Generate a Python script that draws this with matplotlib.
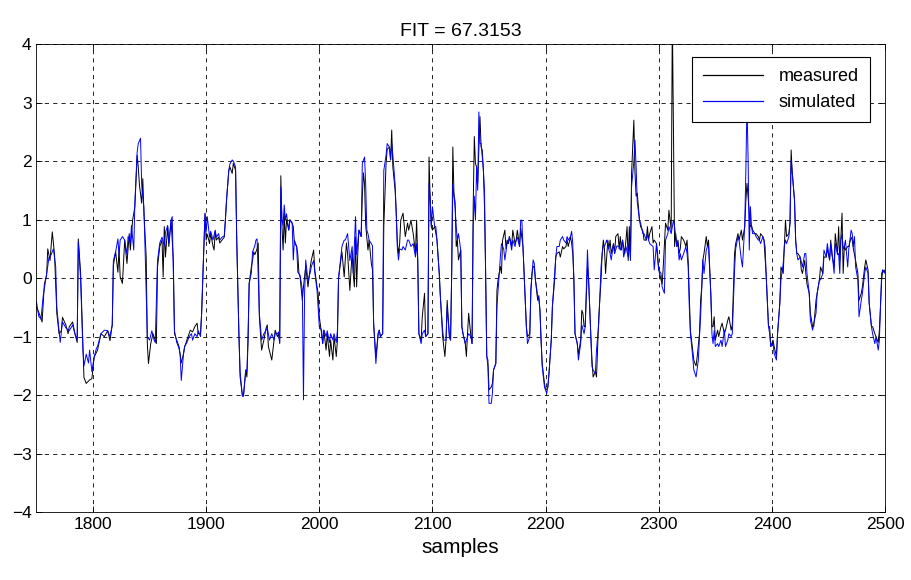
import matplotlib.pyplot as plt
import numpy as np

plt.rcParams['font.family'] = ['Liberation Sans', 'DejaVu Sans']
plt.rcParams['lines.scale_dashes'] = False

# measured output (sample index, value)
MEAS_X = [1750, 1752, 1755, 1757, 1759, 1760, 1762, 1764, 1766, 1768, 1770, 1772, 1773, 1776, 1778, 1779,
          1782, 1784, 1786, 1787, 1789, 1792, 1794, 1797, 1799, 1801, 1804, 1807, 1810, 1813, 1815, 1817,
          1818, 1820, 1822, 1823, 1824, 1826, 1828, 1830, 1832, 1833, 1835, 1837, 1839, 1840, 1841, 1843,
          1844, 1845, 1847, 1848, 1849, 1851, 1853, 1855, 1856, 1857, 1859, 1861, 1862, 1863, 1864, 1866,
          1867, 1869, 1871, 1872, 1874, 1876, 1878, 1880, 1881, 1883, 1885, 1886, 1888, 1890, 1892, 1893,
          1895, 1896, 1897, 1899, 1900, 1901, 1903, 1904, 1906, 1907, 1908, 1909, 1911, 1912, 1914, 1916,
          1917, 1918, 1920, 1921, 1923, 1924, 1926, 1927, 1929, 1930, 1932, 1933, 1935, 1936, 1937, 1938,
          1940, 1941, 1942, 1943, 1945, 1946, 1947, 1949, 1951, 1953, 1954, 1955, 1958, 1960, 1961, 1963,
          1964, 1965, 1966, 1967, 1968, 1969, 1970, 1971, 1973, 1974, 1976, 1977, 1978, 1980, 1981, 1982,
          1983, 1985, 1986, 1988, 1990, 1992, 1993, 1995, 1996, 1998, 1999, 2000, 2002, 2003, 2004, 2006,
          2007, 2009, 2010, 2012, 2013, 2015, 2016, 2017, 2019, 2020, 2022, 2023, 2024, 2025, 2027, 2029,
          2030, 2031, 2032, 2033, 2034, 2035, 2037, 2038, 2039, 2040, 2041, 2043, 2044, 2046, 2047, 2048,
          2050, 2052, 2053, 2054, 2056, 2057, 2059, 2060, 2062, 2063, 2064, 2065, 2067, 2068, 2069, 2070,
          2071, 2072, 2074, 2076, 2078, 2079, 2081, 2083, 2085, 2086, 2087, 2088, 2090, 2091, 2093, 2094,
          2096, 2097, 2098, 2099, 2100, 2102, 2103, 2104, 2106, 2107, 2109, 2110, 2111, 2112, 2113, 2115,
          2116, 2117, 2118, 2119, 2120, 2121, 2122, 2123, 2125, 2126, 2127, 2129, 2130, 2131, 2132, 2134,
          2135, 2136, 2137, 2138, 2139, 2140, 2141, 2142, 2143, 2144, 2145, 2146, 2147, 2148, 2149, 2150,
          2152, 2153, 2154, 2156, 2157, 2158, 2159, 2160, 2161, 2162, 2164, 2165, 2166, 2167, 2168, 2170,
          2171, 2173, 2174, 2175, 2177, 2178, 2180, 2181, 2183, 2184, 2186, 2187, 2188, 2189, 2190, 2191,
          2193, 2194, 2195, 2196, 2197, 2199, 2200, 2201, 2202, 2203, 2205, 2206, 2208, 2209, 2210, 2212,
          2213, 2215, 2216, 2218, 2219, 2220, 2222, 2223, 2224, 2225, 2226, 2228, 2229, 2231, 2232, 2233,
          2234, 2235, 2237, 2238, 2240, 2241, 2242, 2244, 2245, 2246, 2247, 2249, 2250, 2251, 2252, 2253,
          2255, 2256, 2257, 2258, 2260, 2261, 2262, 2264, 2265, 2266, 2267, 2268, 2270, 2272, 2273, 2274,
          2275, 2276, 2278, 2279, 2280, 2281, 2282, 2283, 2284, 2286, 2287, 2289, 2290, 2291, 2292, 2294,
          2295, 2296, 2298, 2299, 2300, 2302, 2303, 2304, 2306, 2308, 2309, 2311, 2312, 2314, 2315, 2316,
          2317, 2318, 2319, 2320, 2322, 2323, 2324, 2325, 2326, 2327, 2328, 2330, 2331, 2332, 2333, 2334,
          2336, 2337, 2338, 2339, 2340, 2342, 2343, 2344, 2346, 2347, 2348, 2349, 2350, 2352, 2353, 2355,
          2356, 2358, 2359, 2361, 2362, 2364, 2365, 2367, 2368, 2370, 2371, 2373, 2374, 2376, 2377, 2378,
          2380, 2381, 2382, 2383, 2385, 2386, 2388, 2389, 2390, 2392, 2393, 2395, 2397, 2398, 2399, 2401,
          2402, 2404, 2405, 2407, 2408, 2410, 2411, 2412, 2413, 2415, 2416, 2417, 2418, 2420, 2421, 2422,
          2423, 2425, 2426, 2427, 2429, 2430, 2431, 2433, 2434, 2436, 2437, 2439, 2440, 2442, 2443, 2445,
          2446, 2448, 2449, 2451, 2452, 2453, 2455, 2456, 2458, 2459, 2460, 2461, 2462, 2463, 2464, 2465,
          2467, 2468, 2470, 2471, 2472, 2474, 2476, 2477, 2479, 2480, 2482, 2483, 2485, 2486, 2488, 2489,
          2491, 2492, 2494, 2495, 2497, 2498, 2499, 2500]
MEAS_Y = [-0.5, -0.58, -0.75, -0.1, 0.05, 0.5, 0.3, 0.79, 0.4, -0.6, -0.95, -0.9, -0.67, -0.8, -0.95, -0.83,
          -0.75, -0.95, -1.1, 0.67, 0.1, -1.7, -1.8, -1.74, -1.72, -1.35, -1.23, -0.95, -1.0, -0.9, -1.07, -0.8,
          0.22, 0.45, 0.1, 0.5, 0.02, -0.09, 0.65, 0.25, 0.76, 0.48, 0.99, 1.22, 2.1, 1.9, 1.6, 1.28,
          1.7, 1.11, 0.36, -1.12, -1.46, -1.12, -0.95, -1.06, -1.12, 0.19, 0.54, 0.65, 0.02, 0.88, 0.36, 0.88,
          0.54, 0.99, 0.3, -0.95, -1.06, -1.17, -1.45, -1.29, -1.17, -1.06, -0.95, -0.89, -0.92, -0.83, -0.77, -0.95,
          -0.95, -0.6, -0.03, 1.11, 0.65, 0.75, 0.59, 0.76, 0.55, 0.48, 0.8, 0.65, 0.7, 0.6, 0.65, 0.7,
          0.99, 1.33, 1.84, 1.9, 1.79, 1.96, 1.84, 0.65, -1.0, -1.69, -2.0, -2.0, -1.57, -1.69, -1.1, -0.09,
          0.2, 0.3, 0.45, 0.4, 0.5, 0.6, -0.66, -1.23, -1.06, -0.85, -0.8, -1.17, -1.4, -1.06, -0.89, -1.0,
          -0.95, -1.1, 1.75, 0.88, 0.48, 1.1, 0.6, 1.0, 0.82, 1.0, 0.94, 0.88, 0.6, 0.54, 0.4, 0.08,
          0.02, -0.38, -0.15, 0.2, -0.15, 0.19, 0.31, 0.48, 0.14, -0.15, -0.26, -0.66, -0.95, -1.12, -0.89, -1.23,
          -0.95, -1.34, -1.06, -1.4, -1.0, -1.34, -1.06, 0.0, 0.3, 0.45, 0.02, 0.33, 0.6, 0.42, -0.21, 0.45,
          0.08, -0.15, 0.7, -0.15, 0.42, 0.82, 0.71, 1.39, 1.8, 1.6, 0.9, 0.48, 0.65, 0.25, 0.14, -0.77,
          -1.34, -0.95, -0.89, -1.0, -0.95, 0.88, 1.96, 2.2, 2.24, 2.02, 2.53, 1.9, 1.5, 1.11, 0.59, 0.42,
          0.59, 0.99, 1.11, 0.71, 0.94, 0.82, 0.99, 0.76, 0.42, 0.99, 0.31, -0.95, -1.06, -0.66, -0.26, -1.0,
          -0.95, 2.07, 1.3, 0.88, 0.82, 0.88, 0.76, 0.65, 0.08, -0.32, -1.0, -1.17, -1.34, -1.06, -0.38, -1.0,
          -1.06, 0.08, 2.24, 1.45, 1.3, 0.54, 0.65, 0.31, 0.48, -0.83, -0.95, -1.12, -1.34, -0.95, -0.6, -1.0,
          -1.12, 1.22, 2.42, 1.96, 1.9, 1.62, 2.2, 2.76, 2.24, 2.19, 1.85, 1.22, 0.08, -1.34, -1.4, -1.91,
          -1.86, -1.8, -1.57, -1.46, -0.21, -0.03, 0.08, 0.2, 0.08, 0.65, 0.82, 0.5, 0.65, 0.59, 0.71, 0.55,
          0.82, 0.59, 0.65, 0.82, 0.54, 0.85, 0.54, 0.08, -0.83, -1.0, -0.95, -0.21, 0.08, 0.2, 0.19, -0.03,
          -0.38, -0.3, -0.55, -1.06, -1.46, -1.8, -1.91, -1.9, -1.86, -1.63, -1.06, -0.49, -0.03, 0.36, 0.42, 0.45,
          0.36, 0.54, 0.5, 0.54, 0.65, 0.54, 0.7, 0.6, 0.42, -0.03, -0.95, -1.12, -1.3, -1.06, -0.55, -0.6,
          -0.83, -0.83, 0.2, -0.03, -1.0, -1.4, -1.69, -1.6, -1.69, -1.17, -0.66, -0.03, 0.42, 0.65, 0.5, 0.08,
          0.65, 0.5, 0.65, 0.42, 0.59, 0.42, 0.71, 0.76, 0.5, 0.71, 0.48, 0.65, 0.42, 0.88, 0.3, 0.88,
          0.36, 1.8, 2.7, 1.8, 1.4, 1.45, 1.22, 0.99, 0.88, 0.8, 0.65, 0.65, 0.88, 0.65, 0.76, 0.88,
          0.6, 0.65, 0.59, 0.42, 0.14, -0.03, -0.1, 0.2, 0.94, 0.82, 1.16, 0.82, 4.5, 0.54, 0.76, 0.54,
          0.65, 0.42, 0.5, 0.71, 0.65, 0.6, 0.54, 0.65, 0.3, -0.3, -0.9, -1.23, -1.4, -1.46, -1.5, -1.34,
          -0.95, -0.38, -0.15, 0.31, 0.42, 0.71, 0.54, 0.65, -0.26, -0.83, -0.83, -0.66, -1.06, -0.89, -1.0, -0.83,
          -0.77, -0.95, -0.89, -0.72, -0.66, -0.89, -0.8, 0.42, 0.59, 0.76, 0.65, 0.82, 0.65, 0.88, 1.33, 1.62,
          1.11, 0.88, 0.9, 0.82, 0.76, 0.76, 0.71, 0.65, 0.76, 0.71, 0.65, 0.03, -0.83, -0.83, -1.17, -1.06,
          -1.17, -1.34, -0.95, -0.43, 0.19, 0.08, 0.54, 0.99, 0.71, 0.76, 0.94, 2.19, 1.8, 1.33, 0.65, 0.42,
          0.42, 0.36, 0.14, 0.08, 0.3, 0.08, -0.1, -0.26, -0.6, -0.83, -0.83, -0.38, -0.26, -0.03, 0.19, 0.08,
          0.36, 0.36, 0.5, 0.31, 0.65, 0.4, 0.2, 0.76, 0.42, 0.88, 0.3, 0.71, 1.11, 0.08, 0.54, 0.48,
          0.54, 0.54, 0.7, 0.65, 0.5, 0.3, 0.08, -0.38, -0.26, -0.15, 0.19, 0.31, 0.14, -0.43, -0.83, -0.83,
          -0.95, -1.0, -1.1, -0.89, -0.03, 0.14, 0.1, 0.14]

# simulated model output
SIM_X = [1750, 1752, 1754, 1756, 1758, 1760, 1761, 1763, 1765, 1767, 1768, 1770, 1771, 1773, 1776, 1779,
         1782, 1784, 1786, 1787, 1789, 1791, 1792, 1794, 1796, 1797, 1799, 1801, 1803, 1804, 1807, 1810,
         1813, 1815, 1817, 1818, 1820, 1822, 1823, 1824, 1826, 1828, 1830, 1831, 1833, 1834, 1836, 1837,
         1839, 1840, 1842, 1843, 1845, 1846, 1848, 1850, 1852, 1854, 1855, 1857, 1859, 1861, 1863, 1864,
         1866, 1867, 1869, 1870, 1872, 1874, 1876, 1877, 1878, 1880, 1881, 1883, 1885, 1887, 1888, 1890,
         1892, 1893, 1895, 1896, 1897, 1899, 1900, 1901, 1903, 1904, 1906, 1908, 1909, 1911, 1912, 1914,
         1916, 1917, 1918, 1920, 1921, 1923, 1924, 1926, 1927, 1929, 1930, 1932, 1933, 1935, 1936, 1937,
         1938, 1940, 1941, 1943, 1944, 1945, 1947, 1949, 1951, 1953, 1954, 1956, 1958, 1960, 1961, 1963,
         1964, 1965, 1966, 1967, 1968, 1969, 1970, 1971, 1973, 1974, 1976, 1977, 1978, 1980, 1981, 1983,
         1985, 1986, 1987, 1988, 1990, 1992, 1993, 1995, 1996, 1998, 2000, 2002, 2003, 2004, 2006, 2007,
         2009, 2010, 2012, 2013, 2015, 2016, 2017, 2019, 2020, 2022, 2023, 2025, 2027, 2029, 2030, 2032,
         2033, 2034, 2035, 2037, 2038, 2040, 2041, 2042, 2043, 2044, 2046, 2047, 2048, 2050, 2052, 2053,
         2054, 2056, 2057, 2059, 2060, 2062, 2063, 2064, 2065, 2067, 2068, 2069, 2070, 2071, 2073, 2074,
         2076, 2078, 2079, 2081, 2083, 2085, 2086, 2087, 2088, 2090, 2091, 2093, 2094, 2096, 2097, 2098,
         2099, 2100, 2102, 2103, 2104, 2106, 2107, 2109, 2110, 2112, 2113, 2115, 2116, 2117, 2118, 2119,
         2120, 2121, 2122, 2123, 2125, 2126, 2127, 2129, 2130, 2132, 2134, 2135, 2136, 2137, 2138, 2139,
         2140, 2141, 2142, 2143, 2145, 2146, 2147, 2148, 2149, 2150, 2152, 2153, 2154, 2156, 2157, 2158,
         2159, 2160, 2161, 2163, 2164, 2166, 2167, 2168, 2170, 2171, 2173, 2174, 2175, 2177, 2178, 2179,
         2180, 2181, 2183, 2184, 2186, 2187, 2188, 2189, 2190, 2191, 2193, 2194, 2195, 2196, 2197, 2199,
         2201, 2202, 2203, 2205, 2206, 2208, 2209, 2210, 2212, 2213, 2215, 2216, 2218, 2219, 2220, 2222,
         2223, 2224, 2225, 2226, 2228, 2229, 2231, 2232, 2234, 2235, 2237, 2238, 2240, 2241, 2242, 2244,
         2245, 2247, 2249, 2250, 2251, 2252, 2254, 2256, 2257, 2258, 2260, 2261, 2263, 2265, 2266, 2268,
         2269, 2271, 2273, 2274, 2275, 2276, 2278, 2279, 2280, 2281, 2283, 2284, 2286, 2287, 2289, 2290,
         2291, 2292, 2295, 2296, 2298, 2299, 2300, 2302, 2303, 2305, 2306, 2308, 2309, 2311, 2313, 2314,
         2316, 2317, 2318, 2319, 2320, 2322, 2324, 2325, 2326, 2327, 2328, 2330, 2331, 2332, 2333, 2335,
         2336, 2337, 2338, 2339, 2340, 2342, 2343, 2344, 2346, 2347, 2348, 2349, 2350, 2352, 2353, 2355,
         2356, 2358, 2359, 2361, 2362, 2364, 2365, 2367, 2368, 2370, 2371, 2373, 2374, 2376, 2377, 2378,
         2379, 2380, 2381, 2382, 2383, 2385, 2386, 2388, 2389, 2390, 2392, 2393, 2394, 2395, 2397, 2398,
         2399, 2401, 2402, 2404, 2405, 2407, 2408, 2410, 2411, 2412, 2413, 2415, 2416, 2417, 2418, 2420,
         2421, 2422, 2423, 2425, 2427, 2429, 2430, 2431, 2433, 2434, 2436, 2437, 2439, 2440, 2442, 2443,
         2445, 2446, 2448, 2449, 2451, 2452, 2453, 2455, 2456, 2458, 2459, 2460, 2461, 2462, 2463, 2464,
         2465, 2467, 2468, 2470, 2471, 2472, 2473, 2474, 2476, 2477, 2479, 2480, 2482, 2483, 2485, 2486,
         2488, 2489, 2491, 2492, 2494, 2495, 2497, 2498, 2500]
SIM_Y = [-0.4, -0.65, -0.7, -0.3, -0.05, 0.2, 0.35, 0.4, 0.5, 0.2, -0.5, -0.9, -1.1, -0.75, -0.85, -0.9,
         -0.8, -0.95, -1.05, 0.62, 0.0, -1.2, -1.5, -1.3, -1.45, -1.23, -1.6, -1.35, -1.2, -1.17, -0.95, -0.89,
         -0.9, -1.0, -0.8, 0.3, 0.45, 0.67, 0.4, 0.65, 0.71, 0.65, 0.4, 0.71, 0.6, 0.9, 0.48, 1.3,
         2.15, 2.3, 2.39, 1.6, 1.2, 0.5, -1.0, -1.06, -0.9, -1.06, -1.1, 0.3, 0.6, 0.7, 0.55, 0.78,
         0.9, 0.6, 0.99, 1.05, -0.9, -1.1, -1.2, -1.3, -1.75, -1.29, -1.17, -1.1, -1.0, -0.95, -1.06, -0.95,
         -1.0, -0.9, -1.0, -0.6, 0.0, 1.1, 0.8, 1.05, 0.7, 0.8, 0.65, 0.82, 0.7, 0.76, 0.65, 0.7,
         0.72, 1.0, 1.33, 1.84, 1.95, 2.02, 2.0, 1.9, 0.7, -1.0, -1.6, -2.02, -2.02, -1.57, -1.6, -1.0,
         -0.1, 0.1, 0.45, 0.55, 0.65, 0.67, -0.6, -1.06, -0.95, -0.89, -0.85, -1.06, -0.95, -1.06, -0.95, -0.95,
         -0.92, -1.12, 1.56, 1.0, 0.9, 1.25, 0.99, 1.1, 0.82, 0.99, 0.94, 0.31, 0.65, 0.54, 0.1, 0.05,
         -0.2, -2.08, -0.26, 0.31, -0.05, 0.1, 0.2, 0.3, 0.1, -0.21, -0.83, -0.89, -1.12, -0.89, -1.0, -0.9,
         -1.1, -0.95, -1.06, -0.95, -1.1, -0.9, 0.0, 0.36, 0.54, 0.65, 0.65, 0.76, 0.3, 0.54, 0.08, 1.05,
         0.4, 0.6, 0.82, 0.71, 1.96, 2.07, 1.6, 0.82, 0.76, 0.65, 0.59, 0.55, -0.77, -1.46, -0.95, -0.89,
         -1.0, -0.95, 1.84, 2.1, 2.3, 2.24, 2.02, 2.3, 2.1, 1.6, 1.1, 0.5, 0.31, 0.5, 0.48, 0.54,
         0.48, 0.65, 0.65, 0.54, 0.59, 0.36, 0.59, 0.31, -0.95, -1.12, -0.95, -0.89, -1.0, -0.95, 1.62, 1.39,
         0.88, 1.22, 0.88, 0.88, 0.65, 0.08, -0.32, -0.89, -1.06, -1.06, -0.49, -1.0, -1.06, 0.08, 1.6, 1.4,
         1.22, 0.88, 0.65, 0.76, 0.48, -0.83, -0.95, -1.12, -1.06, -0.95, -1.0, -1.12, 0.88, 1.4, 0.99, 1.9,
         1.5, 2.84, 2.3, 2.3, 1.85, 1.5, 0.08, -1.34, -1.51, -2.14, -2.14, -1.97, -1.57, -1.46, -0.49, -0.2,
         0.05, 0.36, 0.59, 0.5, 0.31, 0.6, 0.59, 0.71, 0.48, 0.65, 0.54, 0.65, 0.7, 0.54, 0.99, 0.99,
         0.54, 0.08, -0.83, -1.12, -1.0, -0.2, 0.08, 0.31, 0.25, -0.03, -0.3, -0.35, -0.55, -1.06, -1.51, -1.86,
         -1.97, -1.86, -1.63, -1.06, -0.49, 0.08, 0.36, 0.54, 0.54, 0.65, 0.71, 0.65, 0.6, 0.71, 0.65, 0.71,
         0.8, 0.6, -0.03, -0.95, -1.12, -1.4, -1.12, -0.8, -0.95, -0.83, 0.48, -0.03, -1.06, -1.51, -1.57, -1.63,
         -1.23, -0.77, 0.19, 0.42, 0.55, 0.54, 0.65, 0.48, 0.42, 0.31, 0.59, 0.42, 0.55, 0.54, 0.48, 0.65,
         0.36, 0.54, 0.36, 0.6, 0.3, 1.56, 2.0, 2.36, 1.9, 1.3, 0.99, 0.94, 0.76, 0.76, 0.65, 0.76,
         0.65, 0.59, 0.54, 0.14, 0.59, 0.31, 0.14, 0.08, -0.15, -0.26, 0.65, 0.76, 0.88, 0.76, 0.99, 0.88,
         0.54, 0.6, 0.31, 0.42, 0.31, 0.42, 0.54, 0.42, 0.2, -0.5, -0.95, -1.34, -1.57, -1.63, -1.69, -1.4,
         -1.0, -0.66, -0.15, 0.31, 0.08, 0.48, 0.54, 0.55, -0.26, -0.95, -1.12, -0.9, -1.17, -1.12, -1.17, -1.06,
         -1.17, -0.89, -1.17, -1.06, -0.95, -1.0, -0.95, 0.14, 0.5, 0.71, 0.65, 0.31, 0.19, 0.9, 1.85, 3.0,
         2.0, 0.48, 1.22, 0.88, 0.76, 0.76, 0.71, 0.65, 0.65, 0.59, 0.71, 0.65, 0.54, 0.03, -0.83, -0.95,
         -1.17, -1.12, -1.29, -1.4, -0.95, -0.43, -0.03, 0.25, 0.55, 0.65, 0.59, 0.71, 0.94, 2.02, 1.8, 1.33,
         0.65, 0.42, 0.31, 0.36, 0.19, 0.42, 0.42, 0.08, -0.26, -0.72, -0.89, -0.77, -0.6, -0.26, -0.03, -0.03,
         0.08, 0.48, 0.36, 0.59, 0.31, 0.59, 0.48, 0.08, 0.6, 0.4, 0.42, 0.08, 0.65, 0.75, 0.5, 0.54,
         0.65, 0.19, 0.5, 0.82, 0.76, 0.54, 0.71, 0.19, -0.03, -0.66, -0.38, -0.26, 0.08, 0.19, 0.08, -0.43,
         -0.83, -0.95, -1.12, -1.0, -1.23, -1.06, 0.08, 0.14, 0.08]

XTICKS = [1800, 1900, 2000, 2100, 2200, 2300, 2400, 2500]
YTICKS = [-4, -3, -2, -1, 0, 1, 2, 3, 4]

fig = plt.figure(figsize=(9.11, 5.80), dpi=100)
ax = fig.add_axes([0.040, 0.117, 0.9315, 0.807])

ax.plot(MEAS_X, MEAS_Y, color='black', lw=0.7, label='measured')
ax.plot(SIM_X, SIM_Y, color='#0000ff', lw=0.7, label='simulated')

ax.set_xlim(1750, 2500)
ax.set_ylim(-4, 4)
ax.set_xticks(XTICKS)
ax.set_yticks(YTICKS)
ax.grid(True, color='black', linestyle=(0, (3, 3)), lw=0.6)
ax.tick_params(direction='in', top=True, right=True, labelsize=12.5, length=4, width=0.6)
for s in ax.spines.values():
    s.set_linewidth(0.6)

ax.set_title('FIT = 67.3153', fontsize=14, pad=6)
ax.set_xlabel('samples', fontsize=15, labelpad=4)

leg = ax.legend(loc='upper right', fontsize=13, fancybox=False, framealpha=1,
                edgecolor='black', handlelength=3.3, handletextpad=0.9,
                borderaxespad=0.0, borderpad=0.6, labelspacing=0.5,
                bbox_to_anchor=(0.982, 0.972))
leg.get_frame().set_linewidth(0.8)
for line, col in zip(leg.get_lines(), ['black', '#0000ff']):
    line.set_color(col)
    line.set_linewidth(0.9)

fig.savefig('out.png', dpi=100)
